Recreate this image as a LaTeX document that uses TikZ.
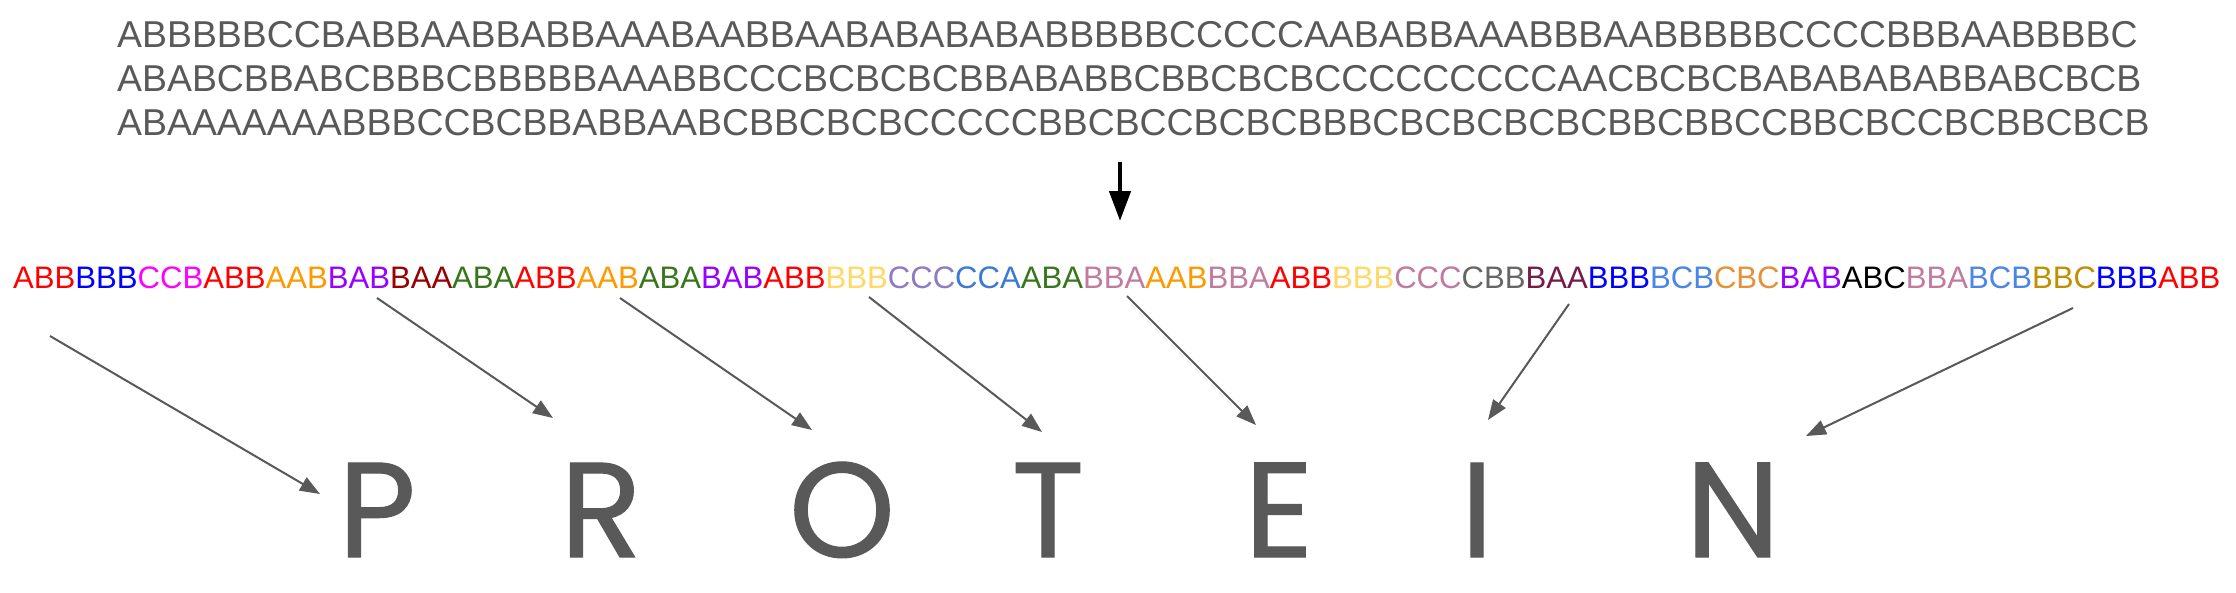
\documentclass[tikz,border=0pt]{standalone}
\usepackage{fontspec}
\setmainfont{Liberation Sans}
\newfontfamily\protfont{Poppins}[FakeBold=0.8]
\usetikzlibrary{arrows.meta}
\definecolor{txtgray}{HTML}{595959}
\definecolor{cRed}{HTML}{FF0000}
\definecolor{cBlue}{HTML}{0000FF}
\definecolor{cMag}{HTML}{FF00FF}
\definecolor{cOrange}{HTML}{FF9900}
\definecolor{cPurple}{HTML}{9900FF}
\definecolor{cDarkRed}{HTML}{990000}
\definecolor{cGreen}{HTML}{38761D}
\definecolor{cYellow}{HTML}{FFD966}
\definecolor{cLav}{HTML}{8E7CC3}
\definecolor{cCorn}{HTML}{3C78D8}
\definecolor{cMauve}{HTML}{C27BA0}
\definecolor{cGray}{HTML}{666666}
\definecolor{cMaroon}{HTML}{741B47}
\definecolor{cLBlue}{HTML}{4A86E8}
\definecolor{cDOrange}{HTML}{E69138}
\definecolor{cGold}{HTML}{BF9000}
\newcommand{\tc}[2]{\textcolor{#1}{#2}}
\begin{document}
\begin{tikzpicture}[x=1pt,y=-1pt,
  toptext/.style={anchor=base west, inner sep=0pt, text=txtgray, font=\fontsize{37.4}{44}\selectfont},
  seqtext/.style={anchor=base west, inner sep=0pt, font=\fontsize{31.1}{36}\selectfont},
  letter/.style={anchor=base, inner sep=0pt, text depth=0pt, text=txtgray, font=\protfont\fontsize{135}{140}\selectfont},
  grayarrow/.style={draw=txtgray, line width=2pt, -{Triangle[length=20pt,width=15pt]}},
  bigarrow/.style={draw=black, line width=4.6pt, -{Triangle[length=30pt,width=21pt]}}]
\useasboundingbox (0,0) rectangle (2236,592);
\fill[white] (0,0) rectangle (2236,592);

\node[toptext] (l1) at (117,47) {ABBBBBCCBABBAABBABBAAABAABBAABABABABABBBBBCCCCCAABABBAAABBBAABBBBBCCCCBBBAABBBBC};
\node[toptext] (l2) at (117,91) {ABABCBBABCBBBCBBBBBAAABBCCCBCBCBCBBABABBCBBCBCBCCCCCCCCCAACBCBCBABABABABBABCBCB};
\node[toptext] (l3) at (117,135) {ABAAAAAAABBBCCBCBBABBAABCBBCBCBCCCCCBBCBCCBCBCBBBCBCBCBCBCBBCBBCCBBCBCCBCBBCBCB};

\coordinate (bs) at (1120,162);
\coordinate (be) at (1120,221);
\draw[bigarrow] (bs) -- (be);

\node[seqtext] (seq) at (13,288) {\tc{cRed}{ABB}\tc{cBlue}{BBB}\tc{cMag}{CCB}\tc{cRed}{ABB}\tc{cOrange}{AAB}\tc{cPurple}{BAB}\tc{cDarkRed}{BAA}\tc{cGreen}{ABA}\tc{cRed}{ABB}\tc{cOrange}{AAB}\tc{cGreen}{ABA}\tc{cPurple}{BAB}\tc{cRed}{ABB}\tc{cYellow}{BBB}\tc{cLav}{CCC}\tc{cCorn}{CCA}\tc{cGreen}{ABA}\tc{cMauve}{BBA}\tc{cOrange}{AAB}\tc{cMauve}{BBA}\tc{cRed}{ABB}\tc{cYellow}{BBB}\tc{cMauve}{CCC}\tc{cGray}{CBB}\tc{cMaroon}{BAA}\tc{cBlue}{BBB}\tc{cLBlue}{BCB}\tc{cDOrange}{CBC}\tc{cPurple}{BAB}\tc{black}{ABC}\tc{cMauve}{BBA}\tc{cLBlue}{BCB}\tc{cGold}{BBC}\tc{cBlue}{BBB}\tc{cRed}{ABB}};

\node[letter] (P) at (377,557) {P};
\node[letter] (R) at (601,557) {R};
\node[letter] (O) at (842,557) {O};
\node[letter] (T) at (1048,557) {T};
\node[letter] (E) at (1279,557) {E};
\node[letter] (I) at (1477,557) {I};
\node[letter] (N) at (1733,557) {N};

\coordinate (s1) at (50,336);   \coordinate (e1) at (320,494);
\coordinate (s2) at (377,298);  \coordinate (e2) at (553,418);
\coordinate (s3) at (620,298);  \coordinate (e3) at (812,430);
\coordinate (s4) at (869,297);  \coordinate (e4) at (1042,432);
\coordinate (s5) at (1127,296); \coordinate (e5) at (1256,425);
\coordinate (s6) at (1569,304); \coordinate (e6) at (1488,420);
\coordinate (s7) at (2073,308); \coordinate (e7) at (1806,436);
\foreach \i in {1,...,7} {\draw[grayarrow] (s\i) -- (e\i);}
\end{tikzpicture}
\end{document}
